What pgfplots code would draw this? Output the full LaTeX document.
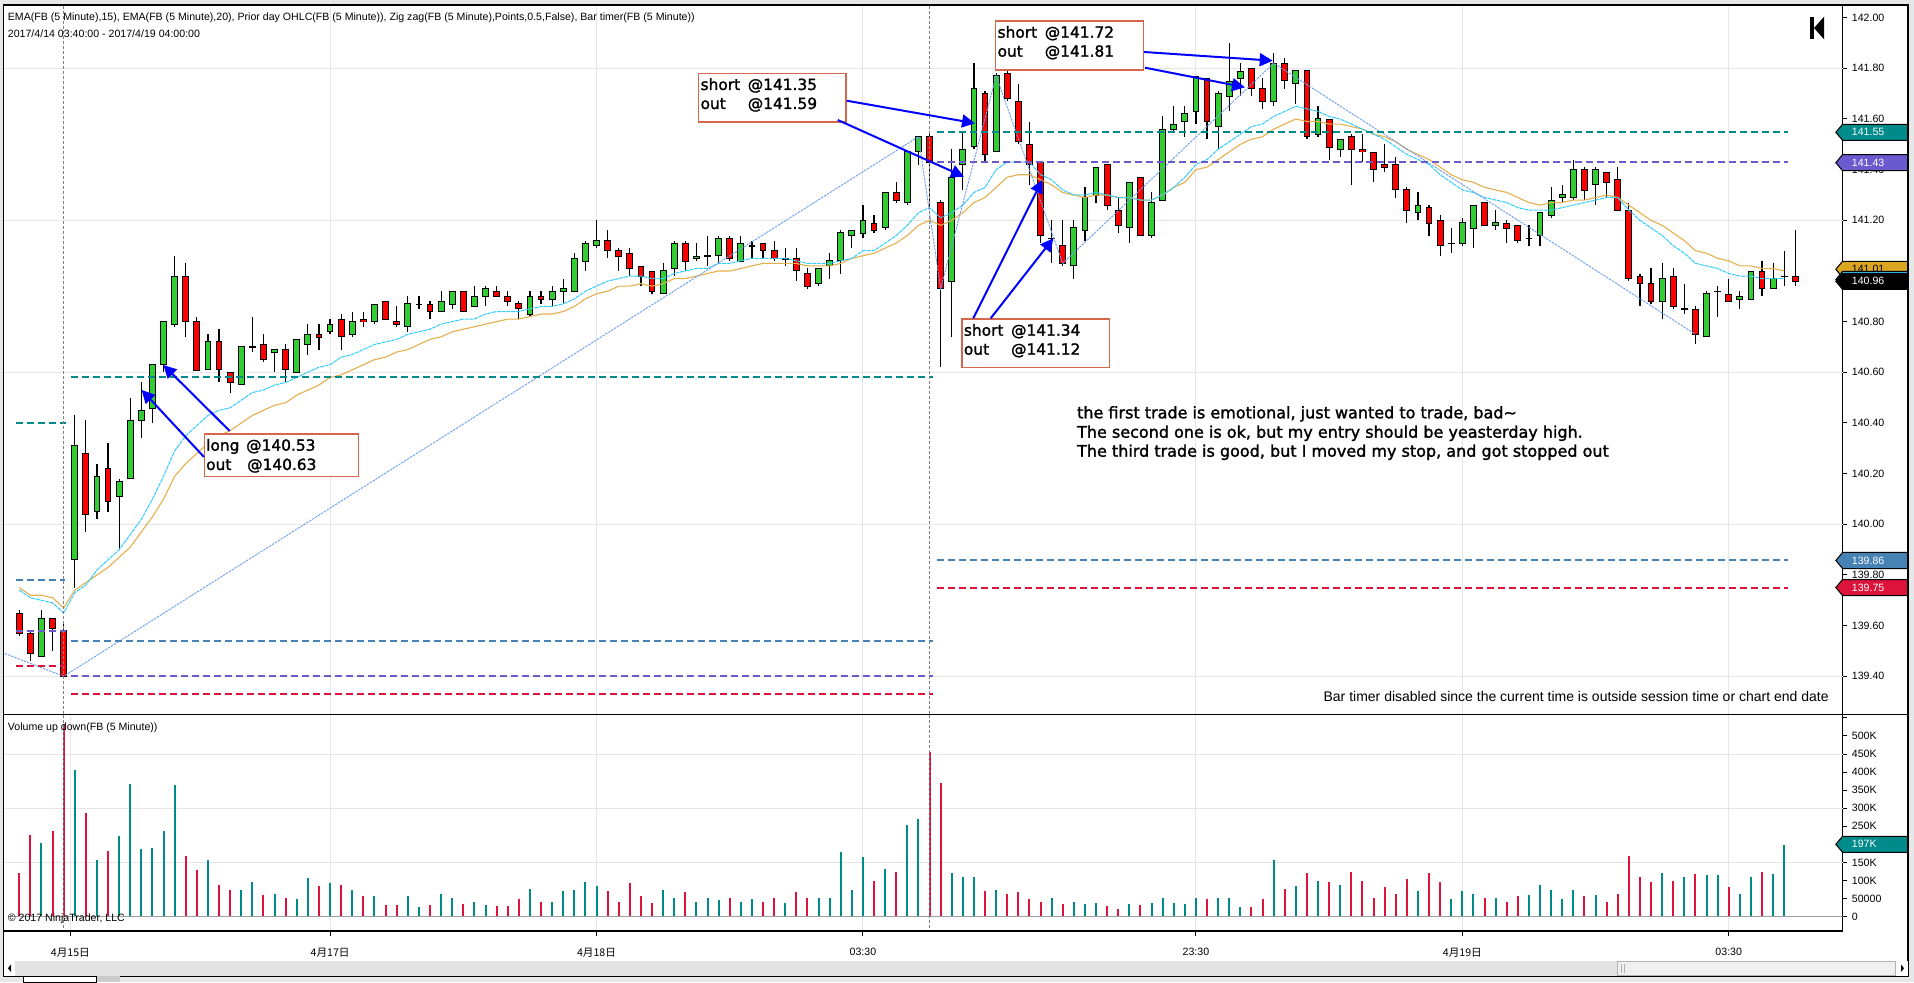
\documentclass[border=0pt]{standalone}
\usepackage{fontspec}
\setmainfont{Liberation Sans}
\newfontfamily\cjk{Noto Sans CJK SC}
\newfontfamily\note[FakeBold=1.6]{DejaVu Sans}
\usepackage{pgfplots}
\usepackage{pgfplotstable}
\pgfplotsset{compat=1.18}
\usetikzlibrary{arrows.meta}
\definecolor{cgreen}{HTML}{32CD32}
\definecolor{cred}{HTML}{FF0000}
\definecolor{vteal}{HTML}{008B8B}
\definecolor{vred}{HTML}{DC143C}
\definecolor{steel}{HTML}{4682B4}
\definecolor{slate}{HTML}{6A5ACD}
\definecolor{gold}{HTML}{DAA520}
\definecolor{ema1}{HTML}{33CCFF}
\definecolor{ema2}{HTML}{E5B04E}
\definecolor{zz}{HTML}{6E9DF0}
\definecolor{boxc}{HTML}{D4674A}
\definecolor{gridc}{HTML}{E6E6E6}
\definecolor{chrome}{HTML}{E6E7E9}
\pgfplotstableread{
i o h l c
2 139.48 139.66 139.48 139.63
5 139.86 140.43 139.75 140.31
7 140.05 140.24 140.02 140.19
9 140.11 140.18 139.90 140.17
10 140.18 140.50 140.18 140.41
11 140.41 140.56 140.34 140.45
12 140.46 140.63 140.40 140.63
13 140.63 140.80 140.60 140.80
14 140.79 141.06 140.78 140.98
17 140.61 140.75 140.61 140.72
20 140.55 140.70 140.55 140.70
21 140.70 140.82 140.68 140.70
23 140.68 140.69 140.60 140.69
25 140.60 140.73 140.60 140.73
26 140.71 140.79 140.67 140.75
28 140.76 140.81 140.75 140.79
30 140.75 140.84 140.74 140.80
32 140.80 140.87 140.79 140.87
35 140.78 140.90 140.76 140.87
36 140.87 140.90 140.85 140.87
38 140.84 140.92 140.84 140.88
39 140.87 140.92 140.85 140.92
41 140.86 140.94 140.86 140.90
42 140.90 140.94 140.86 140.93
46 140.83 140.92 140.82 140.90
48 140.89 140.94 140.86 140.92
49 140.92 140.97 140.87 140.93
50 140.92 141.07 140.92 141.05
51 141.04 141.12 141.00 141.11
52 141.10 141.20 141.09 141.12
58 140.91 141.03 140.91 141.00
59 141.01 141.12 140.98 141.11
61 141.05 141.11 141.04 141.06
62 141.06 141.14 141.02 141.06
63 141.06 141.14 141.03 141.13
65 141.04 141.14 141.04 141.11
66 141.10 141.12 141.05 141.10
69 141.05 141.09 141.02 141.05
72 140.95 141.01 140.94 141.01
73 141.02 141.07 140.97 141.04
74 141.04 141.16 140.99 141.15
75 141.14 141.16 141.09 141.16
76 141.15 141.26 141.13 141.20
78 141.17 141.31 141.16 141.31
80 141.27 141.47 141.26 141.47
81 141.47 141.53 141.42 141.53
84 140.96 141.48 140.74 141.37
85 141.42 141.55 141.32 141.48
86 141.49 141.82 141.48 141.72
88 141.47 141.78 141.47 141.77
93 141.13 141.20 141.03 141.13
95 141.02 141.20 140.97 141.17
96 141.16 141.33 141.12 141.29
97 141.30 141.41 141.27 141.41
100 141.17 141.35 141.11 141.35
102 141.14 141.31 141.13 141.27
103 141.28 141.61 141.28 141.56
104 141.56 141.65 141.55 141.58
105 141.59 141.65 141.53 141.62
106 141.63 141.77 141.58 141.77
108 141.57 141.71 141.48 141.70
109 141.69 141.90 141.63 141.75
110 141.76 141.82 141.69 141.79
113 141.67 141.86 141.65 141.82
115 141.74 141.79 141.66 141.79
117 141.54 141.65 141.53 141.60
119 141.48 141.52 141.45 141.52
126 141.23 141.31 141.20 141.26
129 141.11 141.17 141.07 141.11
130 141.11 141.21 141.10 141.19
131 141.17 141.26 141.09 141.26
133 141.18 141.24 141.16 141.19
136 141.13 141.18 141.10 141.13
137 141.14 141.23 141.10 141.23
138 141.22 141.33 141.21 141.28
139 141.29 141.34 141.27 141.30
140 141.29 141.44 141.28 141.40
142 141.34 141.41 141.26 141.40
148 140.88 141.03 140.81 140.97
150 140.85 140.95 140.83 140.85
152 140.74 140.92 140.74 140.91
153 140.92 140.94 140.82 140.92
155 140.89 140.92 140.85 140.90
156 140.89 141.00 140.89 141.00
158 140.93 141.03 140.93 140.97
159 140.98 141.08 140.94 140.98
}\upc
\pgfplotstableread{
i o h l c
0 139.65 139.66 139.56 139.57
1 139.57 139.58 139.46 139.49
3 139.63 139.63 139.50 139.59
4 139.58 139.62 139.40 139.40
6 140.28 140.41 139.97 140.04
8 140.22 140.32 140.05 140.09
15 140.98 141.03 140.74 140.80
16 140.80 140.82 140.61 140.61
18 140.72 140.77 140.56 140.61
19 140.60 140.60 140.52 140.56
22 140.71 140.75 140.64 140.65
24 140.69 140.71 140.56 140.61
27 140.75 140.79 140.69 140.74
29 140.81 140.83 140.69 140.74
31 140.81 140.84 140.78 140.80
33 140.88 140.88 140.81 140.81
34 140.80 140.86 140.78 140.79
37 140.87 140.88 140.81 140.84
40 140.92 140.92 140.84 140.84
43 140.92 140.94 140.90 140.90
44 140.90 140.92 140.86 140.88
45 140.87 140.88 140.81 140.85
47 140.90 140.92 140.87 140.89
53 141.12 141.16 141.05 141.08
54 141.08 141.09 141.00 141.06
55 141.07 141.09 140.98 141.01
56 141.02 141.02 140.94 140.98
57 141.00 141.00 140.91 140.92
60 141.11 141.12 141.00 141.04
64 141.13 141.14 141.04 141.05
67 141.11 141.11 141.05 141.08
68 141.08 141.12 141.04 141.05
70 141.05 141.09 140.96 141.00
71 140.99 141.01 140.93 140.94
77 141.19 141.22 141.15 141.16
79 141.31 141.35 141.27 141.28
82 141.53 141.54 141.25 141.43
83 141.27 141.28 140.62 140.93
87 141.70 141.71 141.43 141.46
89 141.78 141.84 141.67 141.68
90 141.67 141.74 141.50 141.51
91 141.50 141.59 141.34 141.42
92 141.43 141.43 141.11 141.14
94 141.10 141.20 141.02 141.03
98 141.42 141.42 141.24 141.26
99 141.24 141.29 141.15 141.18
101 141.37 141.37 141.14 141.14
107 141.76 141.76 141.52 141.59
111 141.80 141.80 141.69 141.72
112 141.72 141.76 141.64 141.67
114 141.82 141.84 141.72 141.75
116 141.79 141.79 141.52 141.53
118 141.60 141.60 141.44 141.49
120 141.53 141.54 141.34 141.48
121 141.48 141.54 141.43 141.47
122 141.47 141.47 141.35 141.40
123 141.42 141.50 141.39 141.41
124 141.42 141.45 141.29 141.32
125 141.32 141.33 141.19 141.24
127 141.25 141.26 141.14 141.19
128 141.20 141.22 141.06 141.10
132 141.27 141.27 141.18 141.18
134 141.19 141.20 141.11 141.17
135 141.18 141.18 141.11 141.12
141 141.40 141.41 141.28 141.32
143 141.39 141.39 141.29 141.35
144 141.36 141.41 141.24 141.24
145 141.24 141.27 140.96 140.97
146 140.98 140.99 140.86 140.95
147 140.95 141.01 140.87 140.88
149 140.98 141.01 140.85 140.86
151 140.85 140.86 140.71 140.75
154 140.91 140.97 140.88 140.88
157 141.00 141.04 140.90 140.93
160 140.98 141.16 140.94 140.96
}\dnc
\pgfplotstableread{
i e15 e20
0 139.74 139.75
1 139.71 139.72
2 139.70 139.72
3 139.69 139.71
4 139.65 139.67
5 139.73 139.74
6 139.76 139.77
7 139.82 139.80
8 139.86 139.83
9 139.90 139.87
10 139.96 139.91
11 140.02 139.97
12 140.10 140.03
13 140.19 140.10
14 140.29 140.19
15 140.35 140.24
16 140.39 140.28
17 140.43 140.32
18 140.45 140.35
19 140.46 140.37
20 140.49 140.40
21 140.52 140.43
22 140.53 140.45
23 140.55 140.47
24 140.56 140.48
25 140.58 140.51
26 140.60 140.53
27 140.62 140.55
28 140.63 140.58
29 140.66 140.59
30 140.67 140.61
31 140.69 140.63
32 140.71 140.65
33 140.72 140.66
34 140.73 140.68
35 140.75 140.69
36 140.76 140.71
37 140.77 140.73
38 140.79 140.74
39 140.80 140.76
40 140.81 140.77
41 140.81 140.78
42 140.83 140.79
43 140.84 140.80
44 140.84 140.81
45 140.84 140.81
46 140.85 140.82
47 140.86 140.83
48 140.86 140.83
49 140.87 140.84
50 140.89 140.86
51 140.92 140.89
52 140.94 140.91
53 140.96 140.92
54 140.97 140.94
55 140.98 140.94
56 140.98 140.95
57 140.97 140.94
58 140.97 140.95
59 140.99 140.97
60 141.00 140.97
61 141.01 140.98
62 141.01 140.99
63 141.03 141.00
64 141.03 141.00
65 141.04 141.01
66 141.05 141.02
67 141.05 141.03
68 141.05 141.03
69 141.05 141.03
70 141.04 141.03
71 141.03 141.02
72 141.03 141.02
73 141.03 141.02
74 141.04 141.03
75 141.05 141.05
76 141.08 141.06
77 141.08 141.07
78 141.11 141.09
79 141.14 141.11
80 141.18 141.14
81 141.23 141.18
82 141.25 141.20
83 141.21 141.18
84 141.23 141.20
85 141.26 141.23
86 141.31 141.27
87 141.33 141.29
88 141.40 141.33
89 141.43 141.37
90 141.43 141.38
91 141.43 141.38
92 141.38 141.36
93 141.36 141.34
94 141.32 141.31
95 141.30 141.30
96 141.30 141.29
97 141.31 141.30
98 141.30 141.30
99 141.29 141.29
100 141.29 141.29
101 141.28 141.28
102 141.28 141.28
103 141.30 141.30
104 141.33 141.33
105 141.37 141.35
106 141.42 141.40
107 141.44 141.41
108 141.48 141.44
109 141.51 141.47
110 141.54 141.50
111 141.57 141.52
112 141.58 141.53
113 141.61 141.56
114 141.63 141.58
115 141.65 141.60
116 141.64 141.59
117 141.63 141.59
118 141.61 141.58
119 141.60 141.58
120 141.58 141.57
121 141.56 141.56
122 141.54 141.54
123 141.52 141.53
124 141.49 141.51
125 141.46 141.48
126 141.44 141.46
127 141.42 141.44
128 141.38 141.41
129 141.35 141.38
130 141.32 141.36
131 141.31 141.35
132 141.29 141.33
133 141.28 141.32
134 141.27 141.31
135 141.25 141.29
136 141.24 141.27
137 141.24 141.26
138 141.24 141.27
139 141.25 141.27
140 141.26 141.28
141 141.27 141.28
142 141.28 141.29
143 141.29 141.30
144 141.29 141.29
145 141.24 141.26
146 141.20 141.23
147 141.17 141.20
148 141.14 141.18
149 141.10 141.15
150 141.07 141.12
151 141.03 141.08
152 141.02 141.07
153 141.01 141.05
154 140.99 141.04
155 140.98 141.02
156 140.98 141.02
157 140.97 141.01
158 140.97 141.01
159 140.97 141.00
}\ema
\pgfplotstableread{
i v
2 205
5 407
7 158
9 222
10 368
11 186
12 189
13 236
14 365
17 156
20 73
21 95
23 62
25 48
26 106
28 92
30 75
32 56
35 56
36 26
38 62
39 51
41 42
42 31
46 78
48 42
49 70
50 73
51 95
52 84
58 75
59 51
61 42
62 51
63 45
65 40
66 48
69 37
72 51
73 53
74 178
75 75
76 164
78 133
80 255
81 269
84 120
85 109
86 111
88 75
93 53
95 40
96 34
97 37
100 34
102 37
103 53
104 37
105 34
106 53
108 51
109 51
110 26
113 156
115 84
117 100
119 89
126 70
129 48
130 70
131 62
133 51
136 59
137 89
138 73
139 48
140 75
142 59
148 120
150 111
152 114
153 114
155 62
156 111
158 117
159 197
}\volup
\pgfplotstableread{
i v
0 122
1 227
3 238
4 533
6 288
8 183
15 167
16 128
18 87
19 73
22 59
24 51
27 84
29 87
31 56
33 31
34 31
37 31
40 34
43 29
44 29
45 48
47 40
53 70
54 42
55 92
56 56
57 37
60 67
64 51
67 40
68 53
70 67
71 51
77 98
79 125
82 456
83 371
87 70
89 62
90 67
91 48
92 42
94 34
98 29
99 20
101 31
107 48
111 26
112 48
114 78
116 122
118 95
120 125
121 98
122 53
123 81
124 64
125 103
127 120
128 95
132 51
134 42
135 56
141 56
143 40
144 64
145 169
146 109
147 95
149 100
151 117
154 81
157 125
}\voldn
\newcommand{\tg}[4]{\fill[#2,draw=black,line width=0.5pt] (1835.8,#1) -- (1842.5,#1-8) -- (1907.5,#1-8) -- (1907.5,#1+8) -- (1842.5,#1+8) -- cycle;
  \node[anchor=west,inner sep=0pt,text=#3,font=\fontsize{5.3}{6.4}\selectfont] at (1851.5,#1) {#4};}
\newcommand{\notefont}{\note\fontsize{7.7}{9}\selectfont}
\newcommand{\cmtfont}{\note\fontsize{8}{9}\selectfont}
\newcommand{\tradebox}[5]{\fill[white,draw=boxc,line width=0.75pt] (#1,#2) rectangle (#3,#4);
  \node[anchor=base west,inner sep=0pt,font=\notefont] at (#1+1.5,#2+16.7) {#5};}
\pgfplotsset{
  cbar/.style n args={1}{draw=none,no markers,forget plot,error bars/.cd,y dir=both,y explicit,error mark=none,error bar style={#1}},
}
\begin{document}
\begin{tikzpicture}
\begin{scope}[x=0.5pt,y=-0.5pt]
\useasboundingbox (0,0) rectangle (1914,982);
\fill[chrome] (0,0) rectangle (1914,982);
\fill[white] (3.3,5) rectangle (1908,976);
\end{scope}
% price panel
\begin{axis}[
  at={(1.65pt,-357.15pt)},anchor=south west,
  scale only axis,width=919.6pt,height=354.65pt,
  xmin=-1.44,xmax=164.25,ymin=139.25,ymax=142.05,
  clip=true,
  axis line style={black,line width=0.6pt},
  xtick={28,52,76,106,130,154},xticklabels={},
  xtick pos=bottom,
  x tick style={draw=none},
  xmajorgrids,
  grid style={gridc,line width=0.5pt},
  ytick={139.4,139.6,139.8,140.0,140.2,140.4,140.6,140.8,141.0,141.2,141.4,141.6,141.8,142.0},
  yticklabels={139.40,139.60,139.80,140.00,140.20,140.40,140.60,140.80,141.00,141.20,141.40,141.60,141.80,142.00},
  ytick pos=right,
  yticklabel pos=right,
  y tick style={black,line width=0.5pt},
  tick align=outside,
  major tick length=2.4pt,
  y tick label style={font=\fontsize{5.3}{6.4}\selectfont,inner sep=0pt,xshift=2.1pt},
  extra y ticks={139.4,140.0,140.6,141.2,141.8},
  extra y tick labels={},
  extra y tick style={grid=major,tick style={draw=none}},
  ]
% wicks and bodies
\addplot[cbar={draw=black,line width=0.6pt}]
  table[x=i,y=c,y error plus expr={\thisrow{h}-\thisrow{c}},y error minus expr={\thisrow{c}-\thisrow{l}}] {\upc};
\addplot[cbar={draw=black,line width=0.6pt}]
  table[x=i,y=c,y error plus expr={\thisrow{h}-\thisrow{c}},y error minus expr={\thisrow{c}-\thisrow{l}}] {\dnc};
\addplot[cbar={draw=black,line width=3.4pt}]
  table[x=i,y expr={(\thisrow{o}+\thisrow{c})/2},y error expr={abs(\thisrow{c}-\thisrow{o})/2+0.002}] {\upc};
\addplot[cbar={draw=cgreen,line width=2.4pt}]
  table[x=i,y expr={(\thisrow{o}+\thisrow{c})/2},y error expr={max(abs(\thisrow{c}-\thisrow{o})/2-0.002,0)}] {\upc};
\addplot[cbar={draw=black,line width=3.4pt}]
  table[x=i,y expr={(\thisrow{o}+\thisrow{c})/2},y error expr={abs(\thisrow{c}-\thisrow{o})/2+0.002}] {\dnc};
\addplot[cbar={draw=cred,line width=2.4pt}]
  table[x=i,y expr={(\thisrow{o}+\thisrow{c})/2},y error expr={max(abs(\thisrow{c}-\thisrow{o})/2-0.002,0)}] {\dnc};
% EMAs
\addplot[ema2,line width=0.55pt,forget plot] table[x=i,y=e20] {\ema};
\addplot[ema1,line width=0.5pt,dash pattern=on 2pt off 0.4pt,forget plot] table[x=i,y=e15] {\ema};
% zig zag
\addplot[zz,line width=0.45pt,dash pattern=on 1.2pt off 0.5pt,forget plot] coordinates {(-1.3,139.49) (4,139.40) (81,141.53) (83,140.93) (88,141.77) (94,141.03) (113,141.82) (151,140.75)};
% prior day OHLC
\pgfplotsset{pd/.style={line width=0.95pt,dash pattern=on 3.4pt off 2.1pt,forget plot}}
\addplot[pd,vteal] coordinates {(-0.3,140.40) (4.2,140.40)};
\addplot[pd,steel] coordinates {(-0.3,139.78) (4.1,139.78)};
\addplot[pd,slate] coordinates {(-0.3,139.58) (4.2,139.58)};
\addplot[pd,vred] coordinates {(-0.3,139.44) (4.2,139.44)};
\addplot[pd,vteal] coordinates {(4.66,140.58) (82.3,140.58)};
\addplot[pd,steel] coordinates {(4.66,139.54) (82.3,139.54)};
\addplot[pd,slate] coordinates {(4.66,139.40) (82.3,139.40)};
\addplot[pd,vred] coordinates {(4.66,139.33) (82.3,139.33)};
\addplot[pd,vteal] coordinates {(82.7,141.55) (159.3,141.55)};
\addplot[pd,slate] coordinates {(82.7,141.43) (159.3,141.43)};
\addplot[pd,steel] coordinates {(82.7,139.86) (159.3,139.86)};
\addplot[pd,vred] coordinates {(82.7,139.75) (159.3,139.75)};
% session breaks
\addplot[gray,line width=0.5pt,dash pattern=on 1.5pt off 1pt,forget plot] coordinates {(4,139.25) (4,142.05)};
\addplot[gray,line width=0.5pt,dash pattern=on 1.5pt off 1pt,forget plot] coordinates {(82,139.25) (82,142.05)};
\end{axis}
% volume panel
\begin{axis}[
  at={(1.65pt,-465.5pt)},anchor=south west,
  scale only axis,width=919.6pt,height=108.35pt,
  xmin=-1.44,xmax=164.25,ymin=-39.6,ymax=560,
  axis line style={black,line width=0.6pt},
  xtick={4.6,28,52,76,106,130,154},
  xticklabels={{\cjk 4月15日},{\cjk 4月17日},{\cjk 4月18日},03:30,23:30,{\cjk 4月19日},03:30},
  xtick pos=bottom,
  xmajorgrids,
  grid style={gridc,line width=0.5pt},
  ytick={0,50,100,150,200,250,300,350,400,450,500,550},
  yticklabels={0,50000,100K,150K,200K,250K,300K,350K,400K,450K,500K,{}},
  ytick pos=right,
  yticklabel pos=right,
  tick style={black,line width=0.5pt},
  tick align=outside,
  major tick length=2.4pt,
  x tick label style={font=\fontsize{5.3}{6.4}\selectfont,yshift=-2.5pt},
  y tick label style={font=\fontsize{5.3}{6.4}\selectfont,inner sep=0pt,xshift=2.1pt},
  extra y ticks={150,300,450},
  extra y tick labels={},
  extra y tick style={grid=major,tick style={draw=none}},
  ]
\addplot[ycomb,vteal,line width=1pt,forget plot] table[x=i,y=v] {\volup};
\addplot[ycomb,vred,line width=1pt,forget plot] table[x=i,y=v] {\voldn};
\addplot[gray!75,line width=0.7pt,forget plot] coordinates {(-1,0) (164.25,0)};
\addplot[gray,line width=0.5pt,dash pattern=on 1.5pt off 1pt,forget plot] coordinates {(4,-30) (4,560)};
\addplot[gray,line width=0.5pt,dash pattern=on 1.5pt off 1pt,forget plot] coordinates {(82,-30) (82,560)};
\end{axis}
\begin{scope}[x=0.5pt,y=-0.5pt]
% frame
\draw[black,line width=0.6pt] (3.3,5) rectangle (1908,976);
\draw[black,line width=0.6pt] (1842.5,714.3) -- (1908,714.3);
% header text
\node[anchor=base west,inner sep=0pt,font=\fontsize{5.3}{6.4}\selectfont] at (7.5,20.5) {EMA(FB (5 Minute),15), EMA(FB (5 Minute),20), Prior day OHLC(FB (5 Minute)), Zig zag(FB (5 Minute),Points,0.5,False), Bar timer(FB (5 Minute))};
\node[anchor=base west,inner sep=0pt,font=\fontsize{5.3}{6.4}\selectfont] at (7.5,38) {2017/4/14 03:40:00 - 2017/4/19 04:00:00};
\node[anchor=base west,inner sep=0pt,font=\fontsize{5.3}{6.4}\selectfont] at (7.5,730) {Volume up down(FB (5 Minute))};
\node[anchor=base west,inner sep=0pt,font=\fontsize{5.3}{6.4}\selectfont] at (7.5,921) {© 2017 NinjaTrader, LLC};
\node[anchor=base east,inner sep=0pt,font=\fontsize{7}{8.4}\selectfont] at (1829,701.5) {Bar timer disabled since the current time is outside session time or chart end date};
% back icon
\fill[black] (1810.4,16.7) rectangle (1814,39.3);
\fill[black] (1814,28) -- (1824,16.7) -- (1824,39.3) -- cycle;
% trade notes
\tradebox{204.3}{434}{358.3}{476.7}{\makebox[20pt][l]{long}@140.53}
\node[anchor=base west,inner sep=0pt,font=\notefont] at (205.8,470) {\makebox[20.5pt][l]{out}@140.63};
\tradebox{698.7}{73.3}{846}{122}{\makebox[23.6pt][l]{short}@141.35}
\node[anchor=base west,inner sep=0pt,font=\notefont] at (700.2,109) {\makebox[23.6pt][l]{out}@141.59};
\tradebox{995.7}{21}{1143.3}{70}{\makebox[23.6pt][l]{short}@141.72}
\node[anchor=base west,inner sep=0pt,font=\notefont] at (997.2,56.7) {\makebox[23.6pt][l]{out}@141.81};
\tradebox{962}{319}{1109.3}{367.7}{\makebox[23.6pt][l]{short}@141.34}
\node[anchor=base west,inner sep=0pt,font=\notefont] at (963.5,354.7) {\makebox[23.6pt][l]{out}@141.12};
\tikzset{arr/.style={blue,line width=1pt,-{Triangle[length=6.5pt,width=6.5pt]}}}
\draw[arr] (204,457) -- (141.7,390);
\draw[arr] (229.7,431) -- (163.3,365);
\draw[arr] (846.7,100.7) -- (975,123.3);
\draw[arr] (837.7,120) -- (964,176.7);
\draw[arr] (1144,52) -- (1272.7,60.7);
\draw[arr] (1145,67.7) -- (1245,87.3);
\draw[arr] (973.3,318.3) -- (1042.3,180);
\draw[arr] (990.7,318.3) -- (1053.3,238.3);
% comment
\node[anchor=base west,inner sep=0pt,font=\cmtfont] at (1076.7,418.3) {the first trade is emotional, just wanted to trade, bad\char`\~};
\node[anchor=base west,inner sep=0pt,font=\cmtfont] at (1076.7,437.7) {The second one is ok, but my entry should be yeasterday high.};
\node[anchor=base west,inner sep=0pt,font=\cmtfont] at (1076.7,456.7) {The third trade is good, but I moved my stop, and got stopped out};
% price tags
\tg{132.3}{vteal}{white}{141.55}
\tg{162.7}{slate}{white}{141.43}
\tg{269.3}{gold}{black}{141.01}
\tg{279.5}{ema1}{white}{}
\tg{281.3}{black}{white}{140.96}
\tg{560.5}{steel}{white}{139.86}
\tg{587.5}{vred}{white}{139.75}
\tg{844.3}{vteal}{white}{197K}
% scroll bar
\fill[gray!22] (3.6,961) rectangle (1907.7,975.7);
\fill[white] (4,961) rectangle (15,975.7);
\fill[black] (8,968.3) -- (11,964.5) -- (11,972) -- cycle;
\fill[gray!12,draw=gray!60,line width=0.4pt] (1617,961.7) rectangle (1895,975.3);
\fill[white] (1895.5,961) rectangle (1907.7,975.7);
\fill[black] (1904,968.3) -- (1901,964.5) -- (1901,972) -- cycle;
\draw[gray!60,line width=0.3pt] (1621,964) -- (1621,973) (1624,964) -- (1624,973);
% sheet tabs
\fill[white,draw=black,line width=0.4pt] (23.7,976) rectangle (96.7,982);
\fill[gray!40] (97,976.4) rectangle (120,982);
\end{scope}
\end{tikzpicture}
\end{document}
